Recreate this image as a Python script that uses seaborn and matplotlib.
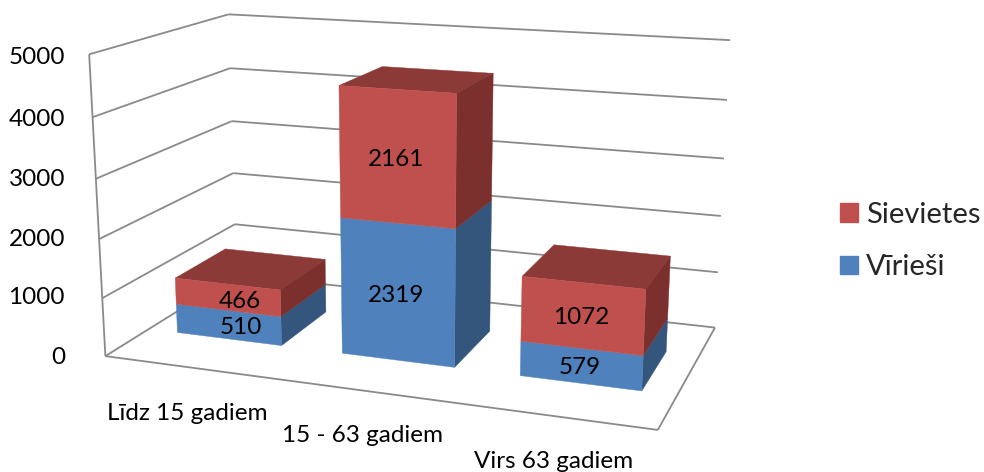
import numpy as np
import matplotlib
matplotlib.use("Agg")
import matplotlib.pyplot as plt
from matplotlib.patches import Patch
from mpl_toolkits.mplot3d.art3d import Line3DCollection
import seaborn as sns

categories = ["Līdz 15 gadiem", "15 - 63 gadiem", "Virs 63 gadiem"]
men_label = "Vīrieši"
women_label = "Sievietes"
men = [510, 2319, 579]
women = [466, 2161, 1072]
z_ticks = [0, 1000, 2000, 3000, 4000, 5000]

sns.set_theme(style="white")
plt.rcParams["font.family"] = ["Lato", "DejaVu Sans"]

W, H_PX = 984, 472
fig = plt.figure(figsize=(W / 100, H_PX / 100), dpi=100)
ax = fig.add_axes([0, 0, 1, 1], projection="3d")
ax.set_axis_off()
ax.patch.set_visible(False)
ax.computed_zorder = False

# camera calibration: wall / floor corners (x, depth, z) -> reference pixels
world = [(0,0,5000),(0,0,4000),(0,0,3000),(0,0,2000),(0,0,1000),(0,0,0),
         (0,1,5000),(0,1,4000),(0,1,3000),(0,1,2000),(0,1,1000),
         (3,1,5000),(3,1,4000),(3,1,3000),(3,1,2000),(3,1,1000),(3,1,0),(3,0,0)]
pix = [(89,54),(92.7,117.3),(96,178.7),(99.3,239.3),(102.7,298.3),(104.7,356),
       (228.3,14.3),(230,68.3),(231.7,121.3),(233.3,173.3),(235,224),
       (730,40.3),(727,100),(724,158),(720.7,216),(718,272.7),(715,327.3),(657.7,430)]
D = np.diag([1/3, 1, 1/5000, 1])
rows = []
for (x, y, z), (u, v) in zip(world, pix):
    X = D @ np.array([x, y, z, 1.0])
    u, v = u / 1000, v / 1000
    rows.append(np.r_[X, 0, 0, 0, 0, -u * X])
    rows.append(np.r_[0, 0, 0, 0, X, -v * X])
P = np.linalg.svd(np.array(rows))[2][-1].reshape(3, 4)
P = np.diag([1000, 1000, 1]) @ P @ D
P = P / (P[2] @ np.array([1.5, 0.5, 2500, 1]))


def get_proj():
    inv = ax.transData.inverted()
    p0 = inv.transform((0, H_PX))
    p1 = inv.transform((W, 0))
    T = np.array([[(p1[0] - p0[0]) / W, 0, p0[0]],
                  [0, (p1[1] - p0[1]) / H_PX, p0[1]],
                  [0, 0, 1]])
    Q = T @ P
    return np.vstack([Q[0], Q[1], Q[2] - np.array([0, 0, 0, 0.5]), Q[2]])


ax.get_proj = get_proj

grid_c = "#8a8a8a"
n_cat = len(categories)
segments = []
for z in z_ticks:
    segments.append([(0, 0, z), (0, 1, z)])
    segments.append([(0, 1, z), (n_cat, 1, z)])
segments.append([(0, 0, z_ticks[0]), (0, 0, z_ticks[-1])])
segments.append([(0, 0, 0), (n_cat, 0, 0)])
segments.append([(n_cat, 0, 0), (n_cat, 1, 0)])
grid = Line3DCollection(segments, colors=grid_c, linewidths=1.3, zorder=1)
ax.add_collection3d(grid)
grid.set_clip_on(False)

none = (0, 0, 0, 0)
blue, red = sns.color_palette(["#4F81BD", "#C0504D"])
blue_faces = [none, none, blue, none, none, "#34557C"]
red_faces = [none, "#8C3A38", red, none, none, "#7B302E"]
bar_x, bar_w, bar_y, bar_d = 0.18, 0.64, 0.30, 0.39
for i, (m, f) in enumerate(zip(men, women)):
    b = ax.bar3d(i + bar_x, bar_y, 0, bar_w, bar_d, m, color=blue_faces, edgecolors=blue_faces,
                 linewidths=0.3, shade=False, zorder=3)
    r = ax.bar3d(i + bar_x, bar_y, m, bar_w, bar_d, f, color=red_faces, edgecolors=red_faces,
                 linewidths=0.3, shade=False, zorder=4)
    b.set_clip_on(False)
    r.set_clip_on(False)


def px_text(x, y, s, **kw):
    kw.setdefault("color", "black")
    kw.setdefault("va", "center")
    kw.setdefault("ha", "center")
    fig.text(x / W, 1 - y / H_PX, s, **kw)


for t, y in zip(z_ticks, [358, 298, 239, 179, 119, 58]):
    px_text(65, y, str(t), ha="right", fontsize=17.5)
for s, (x, y) in zip(categories, [(187, 414), (363, 435.5), (554, 461.5)]):
    px_text(x, y, s, fontsize=17.5)
for s, (x, y) in zip(men + women, [(241, 327), (396, 295), (580, 368), (240, 301), (396, 160), (581, 318)]):
    px_text(x, y, str(s), fontsize=17.5)

handles = [Patch(color=red, label=women_label), Patch(color=blue, label=men_label)]
fig.legend(handles=handles, loc="center left", bbox_to_anchor=(840 / W, 1 - 241 / H_PX), frameon=False,
           fontsize=21, handlelength=0.61, handleheight=0.61, handletextpad=0.27, labelspacing=0.92,
           borderpad=0, borderaxespad=0)

fig.savefig("out.png", dpi=100)
